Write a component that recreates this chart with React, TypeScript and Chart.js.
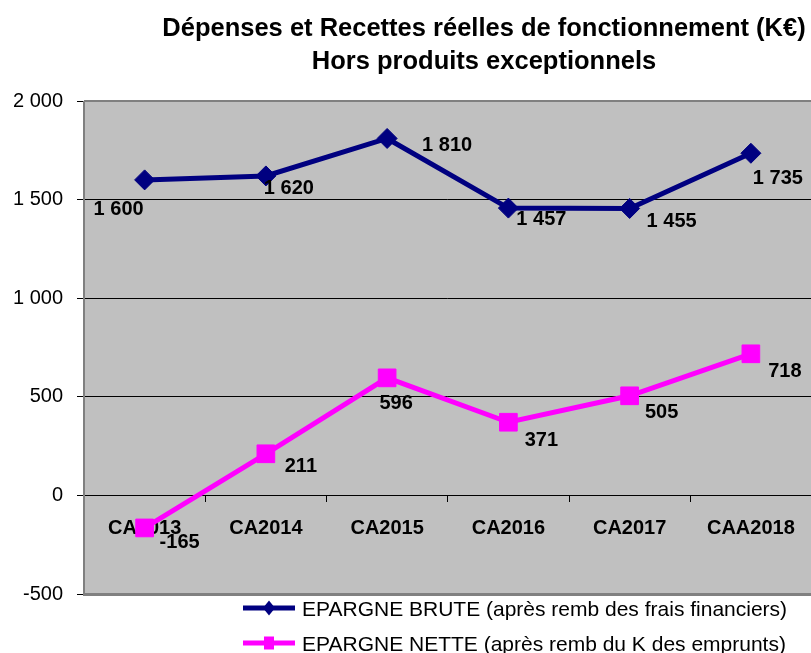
import React, { useEffect, useRef } from 'react';
import { Chart, registerables } from 'chart.js';

Chart.register(...registerables);

const categories = ['CA2013', 'CA2014', 'CA2015', 'CA2016', 'CA2017', 'CAA2018'];
const epargneBrute = [1600, 1620, 1810, 1457, 1455, 1735];
const epargneNette = [-165, 211, 596, 371, 505, 718];
const titleLines = ['Dépenses et Recettes réelles de fonctionnement (K€)', 'Hors produits exceptionnels'];
const seriesNames = [
  'EPARGNE BRUTE (après remb des frais financiers)',
  'EPARGNE NETTE (après remb du K des emprunts)',
];
const yMin = -500;
const yMax = 2000;
const yStep = 500;

// label placement offsets relative to each point (style only)
const brutLabelOffsets = [[-26, 30], [23, 13], [60, 7], [33, 11], [42, 13], [27, 25]];
const netLabelOffsets = [[35, 15], [35, 13], [9, 26], [33, 18], [32, 17], [34, 18]];

const FONT = "'Liberation Sans', Arial, sans-serif";
const NAVY = '#000080';
const MAGENTA = '#ff00ff';

function fmt(n: number): string {
  const s = Math.abs(Math.round(n)).toString().replace(/\B(?=(\d{3})+(?!\d))/g, ' ');
  return (n < 0 ? '-' : '') + s;
}

const deco = {
  id: 'deco',
  beforeDraw(chart: any) {
    const { ctx, chartArea: a } = chart;
    ctx.save();
    ctx.fillStyle = '#c0c0c0';
    ctx.fillRect(a.left, a.top, a.right - a.left, a.bottom - a.top);
    ctx.restore();
  },
  beforeDatasetsDraw(chart: any) {
    const { ctx, chartArea: a } = chart;
    ctx.save();
    ctx.strokeStyle = '#808080';
    ctx.lineWidth = 2;
    ctx.beginPath();
    ctx.moveTo(a.left, a.top);
    ctx.lineTo(a.right, a.top);
    ctx.stroke();
    ctx.beginPath();
    ctx.moveTo(a.left, a.top);
    ctx.lineTo(a.left, a.bottom);
    ctx.stroke();
    ctx.lineWidth = 3;
    ctx.beginPath();
    ctx.moveTo(a.left - 1, a.bottom + 0.5);
    ctx.lineTo(a.right, a.bottom + 0.5);
    ctx.stroke();
    ctx.restore();
  },
  afterDatasetsDraw(chart: any) {
    const { ctx } = chart;
    ctx.save();
    ctx.font = `bold 20px ${FONT}`;
    ctx.fillStyle = '#000';
    ctx.textAlign = 'center';
    ctx.textBaseline = 'middle';
    const offs = [brutLabelOffsets, netLabelOffsets];
    chart.data.datasets.forEach((ds: any, di: number) => {
      const meta = chart.getDatasetMeta(di);
      meta.data.forEach((pt: any, i: number) => {
        const [dx, dy] = offs[di][i];
        ctx.fillText(fmt(ds.data[i]), pt.x + dx, pt.y + dy);
      });
    });
    ctx.restore();
  },
  afterDraw(chart: any) {
    const { ctx } = chart;
    ctx.save();
    // title
    ctx.fillStyle = '#000';
    ctx.font = `bold 25.5px ${FONT}`;
    ctx.textAlign = 'center';
    ctx.textBaseline = 'middle';
    ctx.fillText(titleLines[0], 484, 29);
    ctx.fillText(titleLines[1], 484, 62);

    // legend
    const items = [
      { color: NAVY, y: 608, ty: 610, style: 'diamond' },
      { color: MAGENTA, y: 643, ty: 645, style: 'square' },
    ];
    items.forEach((it, i) => {
      ctx.strokeStyle = it.color;
      ctx.lineWidth = 5;
      ctx.beginPath();
      ctx.moveTo(243, it.y);
      ctx.lineTo(295, it.y);
      ctx.stroke();
      ctx.fillStyle = it.color;
      ctx.beginPath();
      if (it.style === 'diamond') {
        ctx.moveTo(269, it.y - 7.5);
        ctx.lineTo(275, it.y);
        ctx.lineTo(269, it.y + 7.5);
        ctx.lineTo(263, it.y);
        ctx.closePath();
        ctx.fill();
      } else {
        ctx.fillRect(264, it.y - 6.5, 10, 13);
      }
      ctx.fillStyle = '#000';
      ctx.font = `21px ${FONT}`;
      ctx.textAlign = 'left';
      ctx.textBaseline = 'middle';
      ctx.fillText(seriesNames[i], 302, it.ty);
    });
    ctx.restore();
  },
};

export default function App() {
  const ref = useRef<HTMLCanvasElement | null>(null);

  useEffect(() => {
    document.body.style.margin = '0';
    document.body.style.overflow = 'hidden';
    const canvas = ref.current;
    if (!canvas) return;
    const chart = new Chart(canvas, {
      type: 'line',
      data: {
        labels: categories,
        datasets: [
          {
            label: seriesNames[0],
            data: epargneBrute,
            borderColor: NAVY,
            backgroundColor: NAVY,
            borderWidth: 5,
            pointStyle: 'rectRot',
            pointRadius: 10,
            pointBorderWidth: 1,
            pointBackgroundColor: NAVY,
            pointBorderColor: NAVY,
            tension: 0,
          },
          {
            label: seriesNames[1],
            data: epargneNette,
            borderColor: MAGENTA,
            backgroundColor: MAGENTA,
            borderWidth: 5,
            pointStyle: 'rect',
            pointRadius: 12.5,
            pointBorderWidth: 1,
            pointBackgroundColor: MAGENTA,
            pointBorderColor: MAGENTA,
            tension: 0,
          },
        ],
      },
      options: {
        responsive: false,
        animation: false,
        devicePixelRatio: 1,
        layout: { padding: { top: 101, bottom: 59, left: 0, right: 0 } },
        plugins: {
          legend: { display: false },
          title: { display: false },
          tooltip: { enabled: false },
        },
        scales: {
          x: {
            type: 'category',
            position: { y: 0 } as any,
            offset: true,
            grid: {
              offset: true,
              drawOnChartArea: false,
              drawTicks: true,
              tickLength: 7,
              color: '#000',
              lineWidth: 1,
            },
            border: { display: false },
            ticks: {
              color: '#000',
              font: { family: FONT, size: 20, weight: 'bold' },
              padding: 14,
              maxRotation: 0,
              autoSkip: false,
            },
          },
          y: {
            min: yMin,
            max: yMax,
            afterFit: (scale: any) => {
              scale.width = 84;
            },
            grid: {
              color: '#000',
              lineWidth: 1,
              drawTicks: true,
              tickLength: 7,
            },
            border: { display: false },
            ticks: {
              stepSize: yStep,
              color: '#000',
              padding: 14,
              font: { family: FONT, size: 20 },
              callback: (v: any) => fmt(Number(v)),
            },
          },
        },
      },
      plugins: [deco],
    });
    return () => chart.destroy();
  }, []);

  return (
    <div style={{ width: 811, height: 653, overflow: 'hidden' }}>
      <canvas ref={ref} width={825} height={653} style={{ display: 'block', width: 825, height: 653 }} />
    </div>
  );
}
